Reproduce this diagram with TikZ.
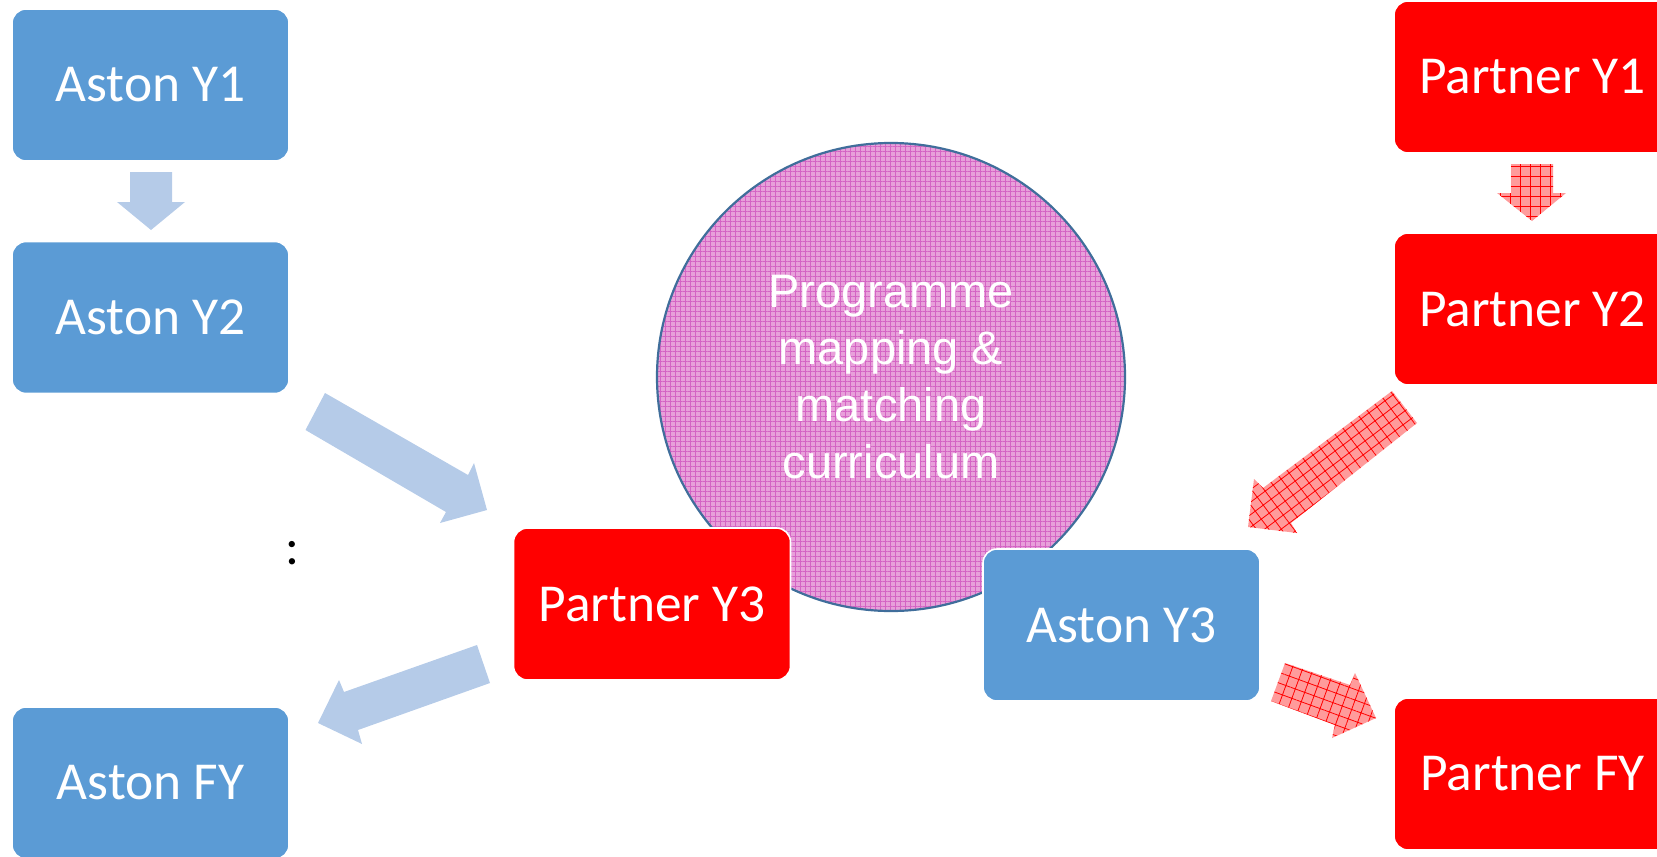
\documentclass[tikz,border=0pt]{standalone}
\usepackage{fontspec}
\setmainfont{Carlito}
\newfontfamily\arialf{Liberation Sans}
\usetikzlibrary{patterns.meta}
\definecolor{astonblue}{RGB}{91,155,213}
\definecolor{partnerred}{RGB}{255,0,0}
\definecolor{lightarrow}{RGB}{181,203,232}
\definecolor{pinkfill}{RGB}{232,160,218}
\definecolor{pinkgrid}{RGB}{212,100,196}
\definecolor{circleedge}{RGB}{64,110,155}
\definecolor{redarrowfill}{RGB}{255,155,155}
\begin{document}
\begin{tikzpicture}[x=0.5pt,y=-0.5pt,
  box/.style={rectangle, rounded corners=7pt, minimum width=138.5pt, minimum height=76pt, inner sep=0pt, text=white, font=\fontsize{26.7}{32}\selectfont, draw=white, line width=0.8pt},
  astonbox/.style={box, fill=astonblue},
  partnerbox/.style={box, fill=partnerred},
  bluearrow/.style={fill=lightarrow},
  redarrow/.style={preaction={fill=redarrowfill}, pattern={Hatch[distance=5pt, angle=#1, line width=0.4pt]}, pattern color=red},
  redarrow/.default=0,
  mapcircle/.style={circle, minimum size=234pt, inner sep=0pt, draw=circleedge, line width=1.1pt, preaction={fill=pinkfill}, pattern={Hatch[distance=2.5pt, line width=0.3pt]}, pattern color=pinkgrid, text=white, align=center, font=\arialf\fontsize{23.5}{28.5}\selectfont}
]
\useasboundingbox (0,0) rectangle (1657,856);

% central circle
\node[mapcircle] (circ) at (891,377) {Programme\\mapping \&\\matching\\curriculum};

% boxes
\node[astonbox] (ay1) at (150.5,85) {Aston Y1};
\node[astonbox] (ay2) at (150.5,317.5) {Aston Y2};
\node[astonbox] (afy) at (150.5,783) {Aston FY};
\node[partnerbox] (py3) at (652,604) {Partner Y3};
\node[astonbox] (ay3) at (1121.5,625) {Aston Y3};
\node[partnerbox] (py1) at (1532.5,77) {Partner Y1};
\node[partnerbox] (py2) at (1532.5,309) {Partner Y2};
\node[partnerbox] (pfy) at (1532.5,774) {Partner FY};

% colon
\node[font=\fontsize{26}{31}\selectfont, inner sep=0pt] (colon) at (292,553) {:};

% blue block arrows
\path[bluearrow] (130,172) -- (172,172) -- (172,202) -- (185,202) -- (151,230) -- (117,202) -- (130,202) -- cycle;
\path[bluearrow] (325,393) -- (468,475) -- (474,463) -- (487,510) -- (440,523) -- (446,512) -- (305.5,430) -- cycle;
\path[bluearrow] (477,645) -- (344,692) -- (339,680) -- (318,723) -- (362,744) -- (358,730) -- (490,683) -- cycle;

% red hatched block arrows
\path[redarrow=0] (1511,164) -- (1553,164) -- (1553,193) -- (1566,193) -- (1532,221) -- (1497,193) -- (1511,193) -- cycle;
\path[redarrow=37] (1392,391) -- (1417,423) -- (1291,523) -- (1297,533) -- (1248,527) -- (1254,479) -- (1263,488) -- cycle;
\path[redarrow=-20] (1285,663) -- (1350,685) -- (1355,673) -- (1376,718) -- (1332,738) -- (1335,725) -- (1271,701) -- cycle;
\end{tikzpicture}
\end{document}
